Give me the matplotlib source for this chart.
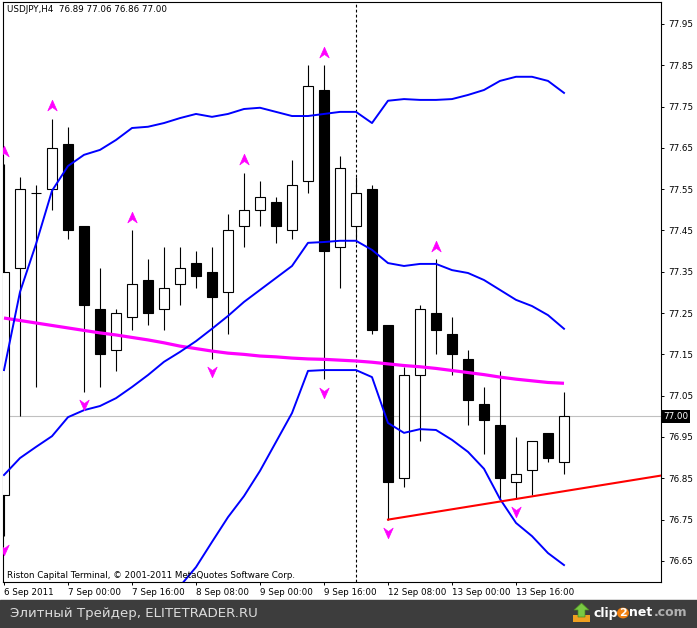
import numpy as np
import matplotlib
matplotlib.use("Agg")
import matplotlib.pyplot as plt
import matplotlib.transforms as mtransforms
from matplotlib.path import Path
from matplotlib.patches import Rectangle, Polygon, Circle

W, H, DPI = 697, 628, 100

# USDJPY H4 bars
opens = [76.81, 77.36, 77.54, 77.55, 77.66, 77.46, 77.26, 77.16, 77.24, 77.33,
         77.26, 77.32, 77.37, 77.35, 77.30, 77.46, 77.50, 77.52, 77.45, 77.57,
         77.79, 77.41, 77.46, 77.55, 77.22, 76.85, 77.10, 77.25, 77.20, 77.14,
         77.03, 76.98, 76.84, 76.87, 76.96, 76.89]
highs = [77.61, 77.58, 77.56, 77.72, 77.70, 77.46, 77.36, 77.26, 77.45, 77.38,
         77.41, 77.41, 77.40, 77.41, 77.49, 77.59, 77.57, 77.53, 77.62, 77.85,
         77.85, 77.63, 77.58, 77.56, 77.22, 77.12, 77.27, 77.38, 77.24, 77.16,
         77.07, 77.11, 76.95, 76.94, 76.96, 77.06]
lows = [76.71, 77.00, 77.07, 77.50, 77.43, 77.06, 77.07, 77.11, 77.21, 77.22,
        77.21, 77.27, 77.31, 77.14, 77.20, 77.41, 77.46, 77.42, 77.43, 77.54,
        77.09, 77.31, 77.42, 77.20, 76.75, 76.83, 76.94, 77.15, 77.10, 76.98,
        76.91, 76.80, 76.80, 76.81, 76.89, 76.86]
closes = [77.35, 77.55, 77.54, 77.65, 77.45, 77.27, 77.15, 77.25, 77.32, 77.25,
          77.31, 77.36, 77.34, 77.29, 77.45, 77.50, 77.53, 77.46, 77.56, 77.80,
          77.40, 77.60, 77.54, 77.21, 76.84, 77.10, 77.26, 77.21, 77.15, 77.04,
          76.99, 76.85, 76.86, 76.94, 76.90, 77.00]

# Bollinger bands
bb_upper = [77.112, 77.301, 77.417, 77.546, 77.606, 77.633, 77.645, 77.669, 77.698, 77.701,
            77.710, 77.722, 77.732, 77.725, 77.732, 77.744, 77.747, 77.737, 77.727, 77.727,
            77.732, 77.737, 77.737, 77.710, 77.764, 77.768, 77.766, 77.766, 77.768, 77.778,
            77.790, 77.812, 77.822, 77.822, 77.812, 77.783]
bb_middle = [76.858, 76.899, 76.926, 76.952, 76.998, 77.015, 77.025, 77.044, 77.071, 77.100,
             77.132, 77.156, 77.182, 77.212, 77.243, 77.277, 77.306, 77.335, 77.364, 77.420,
             77.422, 77.425, 77.425, 77.403, 77.371, 77.364, 77.369, 77.369, 77.354, 77.347,
             77.330, 77.306, 77.282, 77.267, 77.245, 77.212]
bb_lower = [76.555, 76.497, 76.434, 76.359, 76.391, 76.398, 76.405, 76.420, 76.444, 76.500,
            76.553, 76.589, 76.635, 76.696, 76.756, 76.807, 76.868, 76.938, 77.008, 77.110,
            77.112, 77.112, 77.112, 77.095, 76.984, 76.960, 76.969, 76.967, 76.943, 76.914,
            76.873, 76.800, 76.742, 76.710, 76.669, 76.640]
# slow moving average (magenta)
ma_slow = [77.238, 77.232, 77.226, 77.220, 77.214, 77.208, 77.202, 77.197, 77.191, 77.185,
           77.178, 77.170, 77.164, 77.158, 77.153, 77.150, 77.146, 77.144, 77.141, 77.139,
           77.138, 77.136, 77.134, 77.131, 77.127, 77.123, 77.120, 77.116, 77.111, 77.106,
           77.101, 77.095, 77.090, 77.086, 77.082, 77.080]

fractal_up = [0, 3, 8, 15, 20, 27]
fractal_down = [0, 5, 13, 20, 24, 32]

trend_bars = [24, 32]
trend_prices = [76.75, 76.80]

separator_bar = 22
bid = 77.00

time_tick_bars = [0, 4, 8, 12, 16, 20, 24, 28, 32]
time_tick_labels = ["6 Sep 2011", "7 Sep 00:00", "7 Sep 16:00", "8 Sep 08:00",
                    "9 Sep 00:00", "9 Sep 16:00", "12 Sep 08:00", "13 Sep 00:00",
                    "13 Sep 16:00"]
price_ticks = [77.95, 77.85, 77.75, 77.65, 77.55, 77.45, 77.35, 77.25, 77.15,
               77.05, 76.95, 76.85, 76.75, 76.65]

plt.rcParams["font.family"] = ["DejaVu Sans"]
fs = 6.3

fig = plt.figure(figsize=(W / DPI, H / DPI), dpi=DPI, facecolor="white")
ax = fig.add_axes([3 / W, 46 / H, 658 / W, 580 / H])
ax.set_xlim(-0.0625, 41.0625)
ax.set_ylim(76.599, 78.003)

x = np.arange(len(opens))
o = np.array(opens); c = np.array(closes)
ax.vlines(x, lows, highs, color="black", lw=0.8, zorder=2)
body_bottom = np.minimum(o, c)
body_h = np.abs(c - o)
colors = ["white" if cc >= oo else "black" for oo, cc in zip(o, c)]
ax.bar(x, body_h, bottom=body_bottom, width=0.62, color=colors,
       edgecolor="black", linewidth=0.8, zorder=3)

ax.axhline(bid, color="#c0c0c0", lw=0.8, zorder=1)
ax.axvline(separator_bar, color="black", lw=0.8, ls=(0, (2.5, 2)), zorder=1)

ax.plot(x, ma_slow, color="#ff00ff", lw=2.3, zorder=4, solid_capstyle="butt")
for band in (bb_upper, bb_middle, bb_lower):
    ax.plot(x, band, color="#0000ff", lw=1.4, zorder=5)

# trend ray
slope = (trend_prices[1] - trend_prices[0]) / (trend_bars[1] - trend_bars[0])
x_end = ax.get_xlim()[1]
ax.plot([trend_bars[0], x_end],
        [trend_prices[0], trend_prices[0] + slope * (x_end - trend_bars[0])],
        color="#ff0000", lw=1.5, zorder=6)

# fractal arrows
up_arrow = Path([(0, 1), (0.75, -0.7), (0, -0.15), (-0.75, -0.7), (0, 1)],
                [Path.MOVETO, Path.LINETO, Path.LINETO, Path.LINETO, Path.CLOSEPOLY])
down_arrow = Path([(0, -1), (0.75, 0.7), (0, 0.15), (-0.75, 0.7), (0, -1)],
                  [Path.MOVETO, Path.LINETO, Path.LINETO, Path.LINETO, Path.CLOSEPOLY])
off_up = ax.transData + mtransforms.ScaledTranslation(0, 12.5 / DPI, fig.dpi_scale_trans)
off_dn = ax.transData + mtransforms.ScaledTranslation(0, -12.5 / DPI, fig.dpi_scale_trans)
ax.plot(fractal_up, [highs[i] for i in fractal_up], ls="none", marker=up_arrow,
        ms=9, color="#ff00ff", mec="#ff00ff", mew=0.5, transform=off_up, zorder=7)
ax.plot(fractal_down, [lows[i] for i in fractal_down], ls="none", marker=down_arrow,
        ms=9, color="#ff00ff", mec="#ff00ff", mew=0.5, transform=off_dn, zorder=7)

# axes styling
for s in ax.spines.values():
    s.set_color("black")
    s.set_linewidth(0.8)
ax.yaxis.tick_right()
ax.set_yticks(price_ticks)
ax.set_yticklabels([f"{p:.2f}" for p in price_ticks])
ax.tick_params(axis="y", length=2.5, width=0.7, pad=2.5, labelsize=fs, colors="black")
ax.set_xticks(time_tick_bars)
ax.set_xticklabels(time_tick_labels)
for lbl in ax.get_xticklabels():
    lbl.set_ha("left")
ax.tick_params(axis="x", length=2.5, width=0.7, pad=1.5, labelsize=fs)

ax.text(1.003, bid, f"{bid:.2f}", transform=mtransforms.blended_transform_factory(
    ax.transAxes, ax.transData), ha="left", va="center", color="white", fontsize=fs,
    bbox=dict(fc="black", ec="none", pad=1.2), clip_on=False, zorder=10)

fig.text(7 / W, 1 - 10 / H, "USDJPY,H4  76.89 77.06 76.86 77.00",
         fontsize=fs, va="center", ha="left")
fig.text(7 / W, 1 - 575 / H,
         "Riston Capital Terminal, \u00a9 2001-2011 MetaQuotes Software Corp.",
         fontsize=fs, va="center", ha="left")

# bottom banner
fig.patches.append(Rectangle((0, 0), 1, 28 / H, transform=fig.transFigure,
                             color="#3d3d3d", zorder=0))
fig.text(10 / W, 14 / H, "Элитный Трейдер, ELITETRADER.RU", color="#dcdcdc",
         fontsize=9.6, va="center", ha="left")

def fx(px):
    return px / W

def fy(py):
    return 1 - py / H

fig.patches.append(Polygon([(fx(573), fy(622)), (fx(590), fy(622)), (fx(590), fy(615)),
                            (fx(573), fy(615))], closed=True, transform=fig.transFigure,
                           fc="#f0a020", ec="none"))
fig.patches.append(Polygon([(fx(578), fy(617)), (fx(585), fy(617)), (fx(585), fy(610)),
                            (fx(589), fy(610)), (fx(581.5), fy(603)), (fx(574), fy(610)),
                            (fx(578), fy(610))], closed=True, transform=fig.transFigure,
                           fc="#7ac943", ec="#4a8a20", lw=0.5))
fig.text(fx(593), fy(613), "clip", color="white", fontsize=9, weight="bold",
         va="center", ha="left")
fig.patches.append(Circle((fx(623), fy(613)), 6 / W, transform=fig.transFigure,
                          fc="#f08010", ec="none"))
fig.text(fx(623), fy(613), "2", color="white", fontsize=8, weight="bold",
         va="center", ha="center")
fig.text(fx(629.5), fy(613), "net", color="white", fontsize=9, weight="bold",
         va="center", ha="left")
fig.text(fx(654), fy(613), ".com", color="#b0b0b0", fontsize=9, weight="bold",
         va="center", ha="left")

fig.savefig("out.png", dpi=DPI, facecolor="white")
